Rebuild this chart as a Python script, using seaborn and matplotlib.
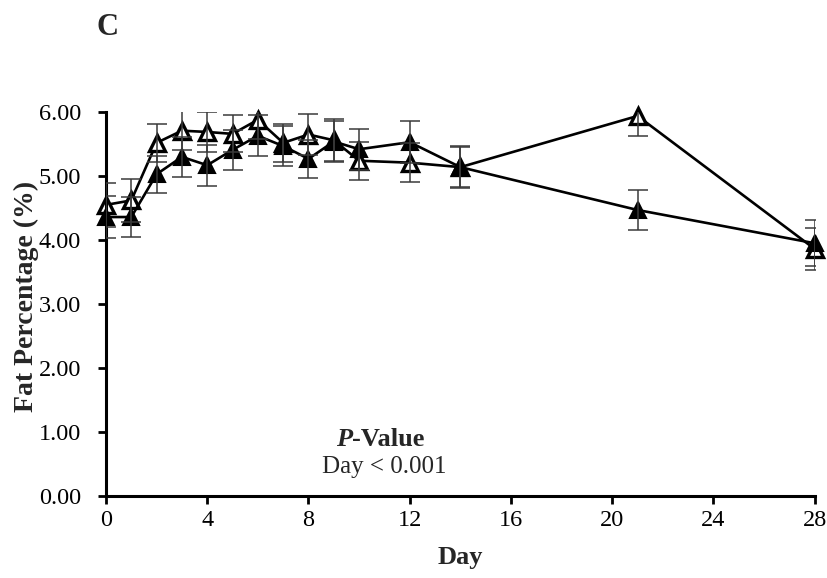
import numpy as np
import pandas as pd
import matplotlib
matplotlib.use("Agg")
import matplotlib.pyplot as plt
import matplotlib.transforms as mtransforms
import seaborn as sns

days = [0, 1, 2, 3, 4, 5, 6, 7, 8, 9, 10, 12, 14, 21, 28]
open_mean = [4.55, 4.62, 5.52, 5.71, 5.69, 5.66, 5.88, 5.52, 5.65, 5.56, 5.24, 5.21, 5.14, 5.94, 3.86]
open_err = [0.34, 0.33, 0.30, 0.30, 0.31, 0.29, 0.30, 0.30, 0.32, 0.33, 0.30, 0.30, 0.33, 0.32, 0.33]
filled_mean = [4.36, 4.36, 5.03, 5.30, 5.17, 5.41, 5.63, 5.47, 5.27, 5.54, 5.42, 5.53, 5.14, 4.47, 3.95]
filled_err = [0.33, 0.31, 0.29, 0.31, 0.32, 0.31, 0.32, 0.31, 0.30, 0.32, 0.32, 0.33, 0.31, 0.32, 0.36]
x_ticks = [0, 4, 8, 12, 16, 20, 24, 28]
y_ticks = [0, 1, 2, 3, 4, 5, 6]

df = pd.DataFrame({
    "Day": days * 2,
    "Fat": open_mean + filled_mean,
    "Err": open_err + filled_err,
    "Group": ["open"] * len(days) + ["filled"] * len(days),
})

sns.set_style("white")
plt.rcParams["font.family"] = ["Liberation Serif", "DejaVu Serif"]

fig = plt.figure(figsize=(8.28, 5.78), dpi=100)
ax = fig.add_axes([0.128, 0.142, 0.856, 0.664])

d_open = df[df.Group == "open"]
d_fill = df[df.Group == "filled"]

sns.lineplot(data=d_open, x="Day", y="Fat", ax=ax, color="black", linewidth=1.9,
             marker="^", markersize=12, markerfacecolor="white",
             markeredgecolor="black", markeredgewidth=2.4, zorder=2, clip_on=False)
sns.lineplot(data=d_fill, x="Day", y="Fat", ax=ax, color="black", linewidth=1.9,
             marker="^", markersize=12, markerfacecolor="black",
             markeredgecolor="black", markeredgewidth=1.5, zorder=3, clip_on=False)

for d in (d_open, d_fill):
    ax.errorbar(d.Day, d.Fat, yerr=d.Err, fmt="none", ecolor="#3a3a3a",
                elinewidth=1.1, capsize=7, capthick=1.1, zorder=4)

ax.set_xlim(0, 28)
ax.set_ylim(0, 6)
ax.set_xticks(x_ticks)
ax.set_yticks(y_ticks)
ax.set_yticklabels([f"{v:.2f}" for v in y_ticks])
ax.tick_params(axis="both", direction="out", length=6, width=2, labelsize=17.5,
               colors="black", pad=4)
ax.tick_params(axis="x", bottom=True)
ax.tick_params(axis="y", left=True, pad=12)
for s in ["top", "right"]:
    ax.spines[s].set_visible(False)
for s in ["left", "bottom"]:
    ax.spines[s].set_linewidth(2.2)
    ax.spines[s].set_color("black")
ax.spines["bottom"].set_zorder(5)

ax.set_xlabel("Day", fontsize=19, fontweight="bold")
ax.xaxis.set_label_coords(0.5, -0.13)
ax.set_ylabel("Fat Percentage (%)", fontsize=20, fontweight="bold")
ax.yaxis.set_label_coords(-0.095, 0.52)

# P-value annotation
cx = 11.0
t1 = mtransforms.offset_copy(ax.transData, fig=fig, x=-32, y=0, units="dots")
ax.text(cx, 0.88, "P", transform=t1, ha="right", va="center", fontsize=19,
        fontweight="bold", fontstyle="italic")
ax.text(cx, 0.88, "-Value", transform=t1, ha="left", va="center", fontsize=19,
        fontweight="bold")
ax.text(cx, 0.45, "Day < 0.001", ha="center", va="center", fontsize=18)

fig.text(0.117, 0.952, "C", fontsize=22, fontweight="bold", ha="left", va="center")

fig.savefig("out.png", dpi=100)
